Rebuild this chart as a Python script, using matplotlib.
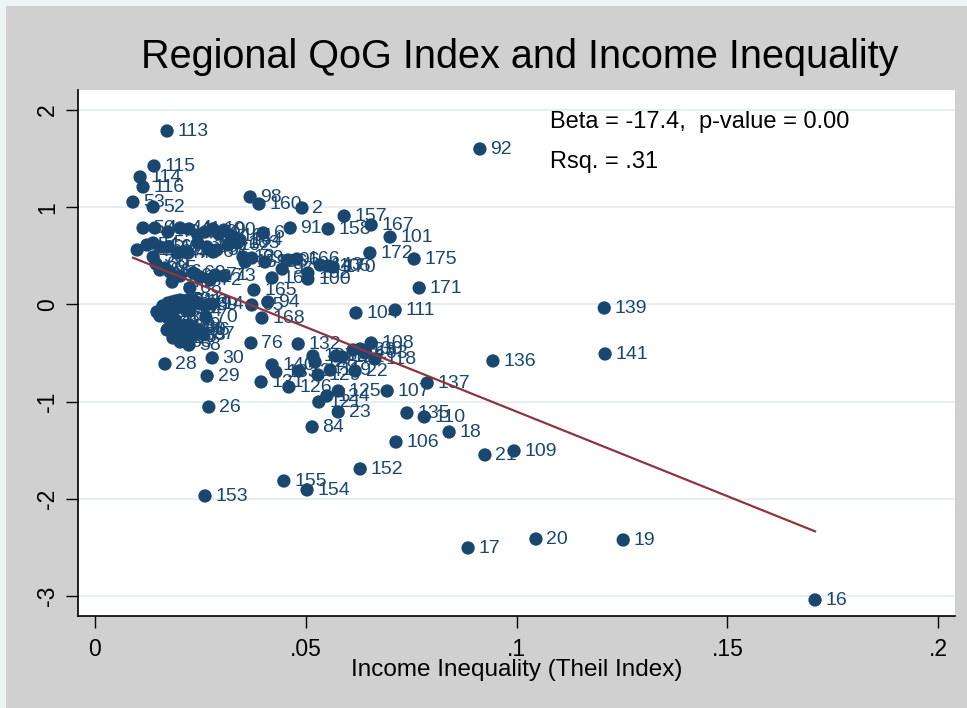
import numpy as np
import matplotlib
matplotlib.use('Agg')
import matplotlib.pyplot as plt
from matplotlib.patches import Rectangle

plt.rcParams['font.family'] = ['Liberation Sans', 'DejaVu Sans']

# region id, Theil index, QoG index
region = [113, 115, 114, 116, 53, 52, 98, 160, 2, 157, 167, 91, 158, 6, 163, 101,
          172, 175, 171, 100, 165, 94, 168, 104, 111, 92, 139, 141, 136, 137, 107, 125,
          23, 84, 135, 110, 18, 106, 109, 21, 152, 155, 154, 153, 17, 20, 19, 16,
          26, 28, 29, 30, 58, 76, 132, 108, 22, 118, 131, 126, 133, 70, 170, 166,
          159, 99, 69, 62, 89, 49, 64, 63, 50, 124, 121, 134,
          4, 40, 44, 41, 43, 42, 10, 9, 90, 161, 164,
          51, 54, 55, 56, 46, 47, 45, 48, 38, 39, 67, 57, 162, 12,
          59, 60, 61, 65, 66, 37, 36, 68, 72, 71, 73, 169, 97, 156, 96, 102, 143, 105,
          31, 32, 33, 34, 35, 3, 5, 7, 8, 11, 13, 14, 15, 24, 25, 27, 95,
          74, 75, 77, 78, 79, 80, 81, 82, 83, 85, 86, 87, 88, 93,
          127, 128, 129, 119, 120, 122, 123, 130, 103, 140]

theil = [0.0171, 0.0140, 0.0107, 0.0114, 0.0090, 0.0138, 0.0368, 0.0389, 0.0491, 0.0591, 0.0655, 0.0463, 0.0553, 0.0399, 0.0337, 0.0700,
         0.0652, 0.0757, 0.0769, 0.0505, 0.0377, 0.0410, 0.0396, 0.0619, 0.0712, 0.0913, 0.1208, 0.1210, 0.0944, 0.0788, 0.0693, 0.0577,
         0.0577, 0.0515, 0.0740, 0.0781, 0.0840, 0.0714, 0.0994, 0.0925, 0.0629, 0.0448, 0.0503, 0.0261, 0.0885, 0.1046, 0.1253, 0.1708,
         0.0270, 0.0166, 0.0266, 0.0278, 0.0223, 0.0370, 0.0482, 0.0655, 0.0617, 0.0664, 0.0394, 0.0460, 0.0429, 0.0263, 0.0565, 0.0479,
         0.0356, 0.0372, 0.0233, 0.0249, 0.0263, 0.0249, 0.0225, 0.0233, 0.0114, 0.0550, 0.0531, 0.0484,
         0.0142, 0.0173, 0.0202, 0.0223, 0.0244, 0.0261, 0.0280, 0.0294, 0.0306, 0.0323, 0.0344,
         0.0100, 0.0123, 0.0138, 0.0154, 0.0173, 0.0195, 0.0214, 0.0221, 0.0244, 0.0266, 0.0280, 0.0289, 0.0316, 0.0351,
         0.0138, 0.0145, 0.0154, 0.0166, 0.0178, 0.0183, 0.0202, 0.0225, 0.0273, 0.0285, 0.0306, 0.0420, 0.0444, 0.0403, 0.0458, 0.0505, 0.0534, 0.0553,
         0.0147, 0.0154, 0.0161, 0.0173, 0.0183, 0.0192, 0.0202, 0.0211, 0.0221, 0.0230, 0.0240, 0.0278, 0.0214, 0.0225, 0.0190, 0.0171, 0.0372,
         0.0171, 0.0183, 0.0195, 0.0209, 0.0221, 0.0235, 0.0197, 0.0185, 0.0202, 0.0214, 0.0244, 0.0256, 0.0173, 0.0190,
         0.0517, 0.0522, 0.0529, 0.0558, 0.0572, 0.0586, 0.0612, 0.0629, 0.0641, 0.0420]

qog = [1.784, 1.424, 1.311, 1.208, 1.053, 1.002, 1.105, 1.033, 0.992, 0.909, 0.817, 0.786, 0.776, 0.735, 0.632, 0.693,
       0.529, 0.467, 0.169, 0.261, 0.148, 0.025, -0.140, -0.088, -0.058, 1.599, -0.037, -0.510, -0.582, -0.809, -0.891, -0.891,
       -1.107, -1.261, -1.117, -1.158, -1.313, -1.416, -1.508, -1.549, -1.693, -1.817, -1.909, -1.971, -2.506, -2.414, -2.424, -3.041,
       -1.056, -0.613, -0.737, -0.551, -0.418, -0.397, -0.407, -0.397, -0.685, -0.562, -0.798, -0.850, -0.695, -0.130, 0.385, 0.467,
       0.436, 0.477, 0.323, 0.282, -0.006, 0.004, -0.263, -0.315, 0.786, -0.942, -1.004, -0.685,
       0.786, 0.745, 0.786, 0.776, 0.714, 0.745, 0.776, 0.724, 0.765, 0.704, 0.663,
       0.560, 0.611, 0.632, 0.591, 0.591, 0.529, 0.539, 0.529, 0.632, 0.591, 0.539, 0.560, 0.611, 0.488,
       0.488, 0.416, 0.354, 0.374, 0.333, 0.230, 0.292, 0.169, 0.251, 0.302, 0.292, 0.272, 0.364, 0.436, 0.457, 0.323, 0.405, 0.395,
       -0.078, -0.119, -0.016, 0.014, 0.025, 0.035, 0.045, 0.035, 0.045, 0.035, 0.025, 0.004, -0.037, -0.068, -0.047, -0.037, -0.006,
       -0.263, -0.232, -0.243, -0.232, -0.212, -0.263, -0.315, -0.346, -0.387, -0.335, -0.263, -0.305, -0.140, -0.160,
       -0.531, -0.593, -0.726, -0.675, -0.531, -0.541, -0.469, -0.459, -0.500, -0.623]

# fitted line reported in the note
beta = -17.4
intercept = 0.637
pvalue = 0.00
rsq = '.31'

navy = '#1a476f'

fig = plt.figure(figsize=(9.67, 7.08), dpi=100)
fig.patch.set_facecolor('#eef3f3')
fig.patches.append(Rectangle((6 / 967, 0), 1, 702 / 708, transform=fig.transFigure,
                             facecolor='#d0d0d0', edgecolor='none', zorder=-10))

ax = fig.add_axes([78 / 967, 92 / 708, 877 / 967, 526 / 708])
ax.set_facecolor('white')

ax.scatter(theil, qog, s=92, color=navy, edgecolors='none', zorder=3)
for lab, x, y in zip(region, theil, qog):
    ax.annotate(str(lab), (x, y), xytext=(7.5, -0.5), textcoords='offset points',
                ha='left', va='center', fontsize=14, color=navy, zorder=4)

xs = np.array([min(theil), max(theil)])
ax.plot(xs, intercept + beta * xs, color='#90353b', lw=1.6, zorder=5)

ax.set_xlim(-0.00403, 0.2040)
ax.set_ylim(-3.206, 2.206)
ax.set_xticks([0, 0.05, 0.1, 0.15, 0.2])
ax.set_xticklabels(['0', '.05', '.1', '.15', '.2'])
ax.set_yticks([-3, -2, -1, 0, 1, 2])
ax.set_yticklabels(['-3', '-2', '-1', '0', '1', '2'], rotation=90, va='center')
ax.tick_params(axis='both', length=8.5, width=1, labelsize=16.5, color='black')
ax.tick_params(axis='x', pad=7)
ax.tick_params(axis='y', pad=5)
ax.yaxis.grid(True, color='#e6eef0', lw=1.5)
ax.set_axisbelow(True)

for side in ['top', 'right']:
    ax.spines[side].set_visible(False)
for side in ['left', 'bottom']:
    ax.spines[side].set_linewidth(1.2)

ax.set_xlabel('Income Inequality (Theil Index)', fontsize=17.5, labelpad=-1)

ax.text(0.1079, 1.815, f'Beta = {beta},  p-value = {pvalue:.2f}', fontsize=17, va='baseline')
ax.text(0.1079, 1.403, f'Rsq. = {rsq}', fontsize=17, va='baseline')

fig.text(520 / 967, 640 / 708, 'Regional QoG Index and Income Inequality',
         fontsize=28.5, ha='center', va='baseline')

fig.savefig('out.png', dpi=100, facecolor=fig.get_facecolor())
